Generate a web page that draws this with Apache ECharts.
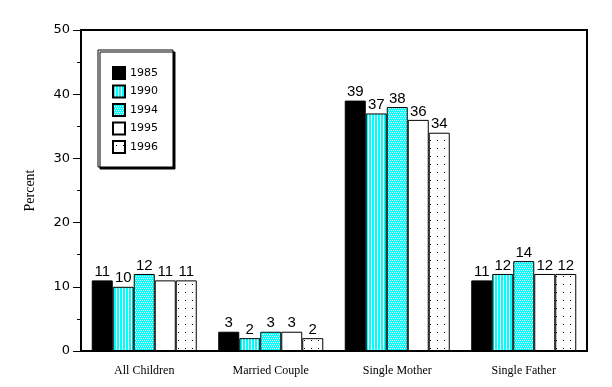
<!DOCTYPE html>
<html>
<head>
<meta charset="utf-8">
<script src="https://cdn.jsdelivr.net/npm/echarts@6/dist/echarts.min.js"></script>
<style>html,body{margin:0;padding:0;background:#fff}#c{width:612px;height:387px}</style>
</head>
<body>
<div id="c"></div>
<script>
const categories = ['All Children', 'Married Couple', 'Single Mother', 'Single Father'];
const years = ['1985', '1990', '1994', '1995', '1996'];
const v1985 = [11, 3, 39, 11];
const v1990 = [10, 2, 37, 12];
const v1994 = [12, 3, 38, 14];
const v1995 = [11, 3, 36, 12];
const v1996 = [11, 2, 34, 12];
const yTicks = [0, 10, 20, 30, 40, 50];

function makePattern(w, h, bg, pixels, fg) {
  const c = document.createElement('canvas');
  c.width = w; c.height = h;
  const ctx = c.getContext('2d');
  ctx.fillStyle = bg; ctx.fillRect(0, 0, w, h);
  ctx.fillStyle = fg;
  pixels.forEach(p => ctx.fillRect(p[0], p[1], 1, 1));
  return { image: c, repeat: 'repeat' };
}
const stripes = makePattern(3, 1, '#00FFFF', [[2, 0]], '#FFFFFF');
const hatch = makePattern(4, 4, '#00FFFF', [[0,0],[2,0],[1,2],[3,2]], '#FFFFFF');
const dots = makePattern(7, 8, '#FFFFFF', [[3, 4]], '#000000');

const fills = ['#000000', stripes, hatch, '#FFFFFF', dots];
const values = [v1985, v1990, v1994, v1995, v1996];

const series = years.map((y, i) => ({
  name: y,
  type: 'bar',
  data: values[i],
  barWidth: 21,
  barGap: '0%',
  itemStyle: { color: fills[i], borderColor: '#000', borderWidth: 1 },
  label: { show: true, position: 'top', distance: 1, color: '#000', fontSize: 15, fontFamily: 'Liberation Sans' },
  emphasis: { disabled: true }
}));

const chart = echarts.init(document.getElementById('c'), null, { renderer: 'canvas' });
chart.setOption({
  animation: false,
  backgroundColor: '#fff',
  grid: { left: 81, right: 25, top: 30, bottom: 36, show: true, borderColor: '#000', borderWidth: 2, backgroundColor: 'transparent' },
  legend: {
    data: years.map(y => ({ name: y, icon: 'rect' })),
    orient: 'vertical',
    left: 98, top: 50,
    itemWidth: 12, itemHeight: 12, itemGap: 4.5,
    padding: [16, 15, 13, 14],
    borderColor: '#000', borderWidth: 1,
    backgroundColor: '#fff',
    shadowColor: '#000', shadowOffsetX: 2, shadowOffsetY: 2, shadowBlur: 0,
    textStyle: { fontSize: 11, fontFamily: 'DejaVu Sans', color: '#000' },
    selectedMode: false
  },
  xAxis: {
    type: 'category',
    data: categories,
    axisLine: { lineStyle: { color: '#000', width: 2 } },
    axisTick: { alignWithLabel: true, length: 8, lineStyle: { color: '#000' } },
    axisLabel: { color: '#000', fontSize: 12, fontFamily: 'Liberation Serif', margin: 14 }
  },
  yAxis: {
    type: 'value',
    min: yTicks[0], max: yTicks[yTicks.length - 1], interval: 10,
    name: 'Percent', nameLocation: 'middle', nameGap: 44,
    nameTextStyle: { color: '#000', fontSize: 14, fontFamily: 'Liberation Serif' },
    axisLine: { show: true, lineStyle: { color: '#000', width: 2 } },
    axisTick: { show: true, length: 8, lineStyle: { color: '#000' } },
    minorTick: { show: true, splitNumber: 2, length: 4, lineStyle: { color: '#000' } },
    splitLine: { show: false },
    axisLabel: { color: '#000', fontSize: 13, fontFamily: 'DejaVu Sans', margin: 11 }
  },
  series: series
});
</script>
</body>
</html>
